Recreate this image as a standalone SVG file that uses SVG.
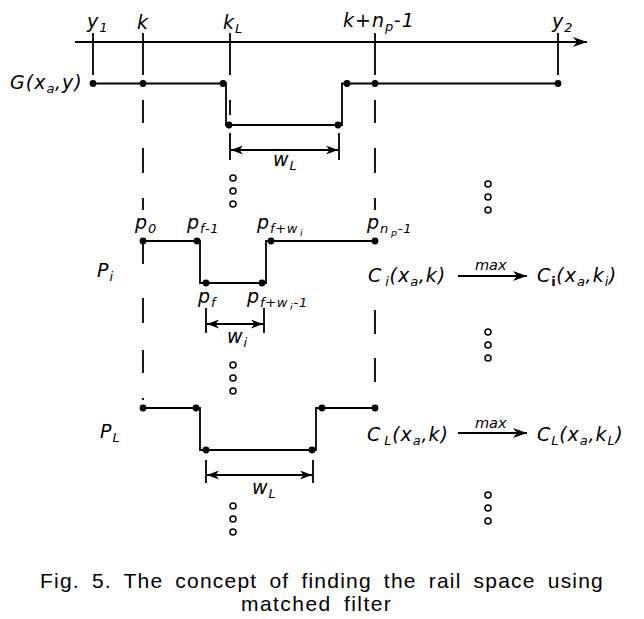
<svg xmlns="http://www.w3.org/2000/svg" width="644" height="619" viewBox="0 0 644 619">
<style>
.ln{stroke:#000;stroke-width:1.8;fill:none}
.dot{fill:#000}
.ring{fill:#fff;stroke:#000;stroke-width:1.5}
.t{font-family:"DejaVu Sans",Verdana,sans-serif;font-style:italic;font-size:19px;letter-spacing:1px;fill:#000}
.s{font-size:13px;letter-spacing:0.6px}
.ss{font-size:9.5px}
.mx{font-family:"DejaVu Sans",Verdana,sans-serif;font-style:italic;font-size:14.5px;fill:#000}
.cap{font-family:"Liberation Sans",Arial,sans-serif;font-size:21px;letter-spacing:1.2px;word-spacing:5px;fill:#000}
</style>
<defs>
<marker id="ah" viewBox="0 0 14 10" refX="14" refY="5" markerWidth="14" markerHeight="10" markerUnits="userSpaceOnUse" orient="auto-start-reverse">
<path d="M0,0 L14,5 L0,10 L4,5 Z" fill="#000"/>
</marker>
<marker id="ad" viewBox="0 0 12 9" refX="12" refY="4.5" markerWidth="12" markerHeight="9" markerUnits="userSpaceOnUse" orient="auto-start-reverse">
<path d="M0,0 L12,4.5 L0,9 L3.5,4.5 Z" fill="#000"/>
</marker>
</defs>
<rect width="644" height="619" fill="#fff"/>

<g id="connectors">
<line class="ln" x1="75" y1="42" x2="587" y2="42" marker-end="url(#ah)"/>
<path class="ln" d="M93 33V75 M143 33V75 M230 33V75 M375 33V75 M558 33V75"/>
<path class="ln" d="M143 100V123 M143 148V173 M143 198V210 M143 241V264 M143 298V323 M143 350V373 M143 398V400"/>
<path class="ln" d="M375 100V123 M375 148V173 M375 198V210 M375 310V334 M375 358V382"/>
<path class="ln" d="M230 100V115 M230 133V160 M339 133V160"/>
<path class="ln" d="M206 308V333 M264 308V333 M206 460V483 M313 460V483"/>
<line class="ln" x1="231" y1="150" x2="338" y2="150" marker-start="url(#ad)" marker-end="url(#ad)"/>
<line class="ln" x1="207" y1="324" x2="263" y2="324" marker-start="url(#ad)" marker-end="url(#ad)"/>
<line class="ln" x1="207" y1="475" x2="312" y2="475" marker-start="url(#ad)" marker-end="url(#ad)"/>
<line class="ln" x1="458" y1="276" x2="527" y2="276" marker-end="url(#ah)"/>
<line class="ln" x1="458" y1="433" x2="527" y2="433" marker-end="url(#ah)"/>
</g>

<g id="axis-labels">
<text class="t" x="87" y="28">y<tspan class="s" dy="4">1</tspan></text>
<text class="t" x="137" y="29">k</text>
<text class="t" x="223" y="29">k<tspan class="s" dy="4">L</tspan></text>
<text class="t" x="343" y="27">k+n<tspan class="s" dy="4">p</tspan><tspan dy="-4">-1</tspan></text>
<text class="t" x="552" y="28">y<tspan class="s" dy="4">2</tspan></text>
</g>

<g id="G-row">
<text class="t" x="10" y="89">G(x<tspan class="s" dy="4">a</tspan><tspan dy="-4">,y)</tspan></text>
<polyline class="ln" points="93,83.5 226,83.5 226,125 342,125 342,83.5 558,83.5"/>
<circle class="dot" cx="93" cy="83.5" r="3.4"/>
<circle class="dot" cx="143" cy="83.5" r="3.4"/>
<circle class="dot" cx="223" cy="83.5" r="3.4"/>
<circle class="dot" cx="229" cy="125" r="3.4"/>
<circle class="dot" cx="338" cy="125" r="3.4"/>
<circle class="dot" cx="347" cy="83.5" r="3.4"/>
<circle class="dot" cx="375" cy="83.5" r="3.4"/>
<circle class="dot" cx="558" cy="83.5" r="3.4"/>
<text class="t" x="273" y="166">w<tspan class="s" dy="4">L</tspan></text>
</g>

<g id="Pi-row">
<text class="t" x="97" y="277">P<tspan class="s" dy="4">i</tspan></text>
<polyline class="ln" points="143,241 200,241 200,283 266,283 266,241 375,241"/>
<circle class="dot" cx="143" cy="241" r="3.4"/>
<circle class="dot" cx="197" cy="241" r="3.4"/>
<circle class="dot" cx="206" cy="283" r="3.4"/>
<circle class="dot" cx="262" cy="283" r="3.4"/>
<circle class="dot" cx="271" cy="241" r="3.4"/>
<circle class="dot" cx="375" cy="241" r="3.4"/>
<text class="t" x="135" y="229">p<tspan class="s" dy="4">0</tspan></text>
<text class="t" x="187" y="229">p<tspan class="s" dy="4">f-1</tspan></text>
<text class="t" x="257" y="229">p<tspan class="s" dy="4">f+w</tspan><tspan class="ss" dx="2" dy="3">i</tspan></text>
<text class="t" x="367" y="229">p<tspan class="s" dy="4">n</tspan><tspan class="ss" dx="2" dy="3">p</tspan><tspan class="s" dy="-3">-1</tspan></text>
<text class="t" x="198" y="303">p<tspan class="s" dy="4">f</tspan></text>
<text class="t" x="247" y="303">p<tspan class="s" dy="4">f+w</tspan><tspan class="ss" dx="2" dy="3">i</tspan><tspan class="s" dy="-3">-1</tspan></text>
<text class="t" x="227" y="343">w<tspan class="s" dy="4">i</tspan></text>
</g>

<g id="Ci-row">
<text class="t" x="368" y="282">C<tspan class="s" dx="3" dy="4">i</tspan><tspan dy="-4">(x</tspan><tspan class="s" dy="4">a</tspan><tspan dy="-4">,k)</tspan></text>
<text class="mx" x="475" y="270">max</text>
<text class="t" x="537" y="282">C<tspan class="s" dy="4" font-weight="bold" font-style="normal">i</tspan><tspan dy="-4">(x</tspan><tspan class="s" dy="4">a</tspan><tspan dy="-4">,k</tspan><tspan class="s" dy="4">i</tspan><tspan dy="-4">)</tspan></text>
</g>

<g id="PL-row">
<text class="t" x="100" y="438">P<tspan class="s" dy="4">L</tspan></text>
<polyline class="ln" points="143,408 200,408 200,450 316,450 316,408 375,408"/>
<circle class="dot" cx="143" cy="408" r="3.4"/>
<circle class="dot" cx="196" cy="408" r="3.4"/>
<circle class="dot" cx="206" cy="450" r="3.4"/>
<circle class="dot" cx="312" cy="450" r="3.4"/>
<circle class="dot" cx="322" cy="408" r="3.4"/>
<circle class="dot" cx="375" cy="408" r="3.4"/>
<text class="t" x="252" y="494">w<tspan class="s" dy="4">L</tspan></text>
</g>

<g id="CL-row">
<text class="t" x="367" y="441">C<tspan class="s" dx="3" dy="4">L</tspan><tspan dy="-4">(x</tspan><tspan class="s" dy="4">a</tspan><tspan dy="-4">,k)</tspan></text>
<text class="mx" x="475" y="428">max</text>
<text class="t" x="537" y="441">C<tspan class="s" dy="4">L</tspan><tspan dy="-4">(x</tspan><tspan class="s" dy="4">a</tspan><tspan dy="-4">,k</tspan><tspan class="s" dy="4">L</tspan><tspan dy="-4">)</tspan></text>
</g>

<g id="ellipses">
<circle class="ring" cx="233" cy="178" r="3"/>
<circle class="ring" cx="233" cy="191" r="3"/>
<circle class="ring" cx="233" cy="204" r="3"/>
<circle class="ring" cx="488" cy="184" r="3"/>
<circle class="ring" cx="488" cy="197" r="3"/>
<circle class="ring" cx="488" cy="210" r="3"/>
<circle class="ring" cx="488" cy="332" r="3"/>
<circle class="ring" cx="488" cy="345" r="3"/>
<circle class="ring" cx="488" cy="358" r="3"/>
<circle class="ring" cx="233" cy="365" r="3"/>
<circle class="ring" cx="233" cy="378" r="3"/>
<circle class="ring" cx="233" cy="391" r="3"/>
<circle class="ring" cx="488" cy="495" r="3"/>
<circle class="ring" cx="488" cy="508" r="3"/>
<circle class="ring" cx="488" cy="521" r="3"/>
<circle class="ring" cx="233" cy="506" r="3"/>
<circle class="ring" cx="233" cy="519" r="3"/>
<circle class="ring" cx="233" cy="532" r="3"/>
</g>

<g id="caption">
<text class="cap" x="40" y="588" textLength="564" lengthAdjust="spacing">Fig. 5. The concept of finding the rail space using</text>
<text class="cap" x="241" y="611" textLength="151" lengthAdjust="spacing">matched filter</text>
</g>
</svg>
